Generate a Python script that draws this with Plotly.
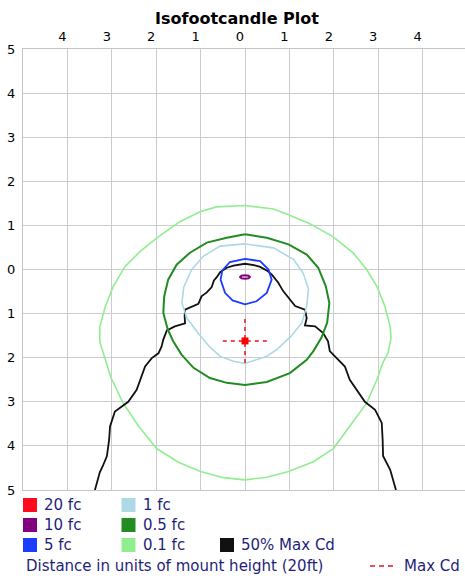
import plotly.graph_objects as go

# ---------------- data (units of mount height) ----------------
fc01_x = [0, 0.64, 0.98, 1.46, 1.99, 2.44, 2.74, 2.97, 3.15, 3.27, 3.29, 3.22, 3.11, 2.97, 2.74, 2.36, 1.99, 1.54, 0.98, 0.49, 0,
          -0.49, -1.0, -1.50, -1.99, -2.40, -2.75, -3.02, -3.27, -3.27, -3.15, -2.97, -2.70, -2.36, -1.99, -1.46, -1.01, -0.64, 0]
fc01_y = [1.45, 1.37, 1.24, 1.04, 0.74, 0.37, 0.0, -0.38, -0.83, -1.30, -1.55, -1.90, -2.10, -2.50, -3.03, -3.56, -4.06, -4.36, -4.58, -4.71, -4.77,
          -4.72, -4.58, -4.37, -4.06, -3.55, -3.02, -2.45, -1.64, -1.30, -0.85, -0.39, 0.07, 0.41, 0.71, 1.09, 1.31, 1.42, 1.45]

fc05_x = [0, 0.49, 0.98, 1.39, 1.65, 1.82, 1.90, 1.85, 1.72, 1.54, 1.39, 1.01, 0.49, 0, -0.41, -0.79, -1.16, -1.43, -1.62, -1.74,
          -1.84, -1.82, -1.73, -1.54, -1.24, -0.86, -0.41, 0]
fc05_y = [0.80, 0.72, 0.57, 0.34, 0.04, -0.38, -0.76, -1.21, -1.55, -1.85, -2.05, -2.35, -2.55, -2.62, -2.57, -2.46, -2.23, -1.93, -1.62, -1.36,
          -0.98, -0.61, -0.23, 0.11, 0.38, 0.61, 0.72, 0.80]

fc1_x = [0, 0.64, 1.09, 1.31, 1.43, 1.39, 1.28, 1.05, 0.71, 0.49, 0, -0.26, -0.56, -0.80, -1.05, -1.31, -1.42, -1.38, -1.20, -0.94, -0.56, 0]
fc1_y = [0.58, 0.49, 0.23, -0.08, -0.45, -0.83, -1.21, -1.50, -1.82, -1.97, -2.13, -2.08, -1.97, -1.75, -1.45, -1.10, -0.76, -0.40, 0.0, 0.30, 0.53, 0.58]

fc5_x = [0, 0.34, 0.53, 0.60, 0.49, 0.26, 0, -0.28, -0.45, -0.55, -0.51, -0.34, 0]
fc5_y = [0.24, 0.19, 0.0, -0.23, -0.53, -0.72, -0.79, -0.70, -0.53, -0.23, -0.02, 0.17, 0.24]

fc10_x = [0, 0.08, 0.11, 0.08, 0, -0.08, -0.11, -0.08, 0]
fc10_y = [-0.13, -0.14, -0.17, -0.20, -0.21, -0.20, -0.17, -0.14, -0.13]

cd50_x = [-3.38, -3.27, -3.20, -3.11, -3.06, -3.04, -2.93, -2.78, -2.63, -2.44, -2.33, -2.25, -2.10, -1.95, -1.88, -1.84, -1.76,
          -1.58, -1.35, -1.36, -1.35, -1.22, -1.05, -0.98, -0.86, -0.75, -0.70, -0.64, -0.56, -0.41, -0.26, 0, 0.20, 0.34,
          0.50, 0.60, 0.75, 0.86, 1.01, 1.13, 1.35, 1.39, 1.35, 1.58, 1.76, 1.87, 1.91, 2.07, 2.25, 2.36, 2.52, 2.70, 2.93,
          3.08, 3.10, 3.11, 3.27, 3.38, 3.40]
cd50_y = [-5.0, -4.6, -4.45, -4.23, -3.86, -3.56, -3.22, -3.11, -3.0, -2.73, -2.42, -2.20, -2.01, -1.90, -1.75, -1.59, -1.38,
          -1.29, -1.22, -1.06, -0.91, -0.85, -0.78, -0.61, -0.52, -0.40, -0.25, -0.18, -0.06, 0.04, 0.09, 0.13, 0.10, 0.06,
          -0.03, -0.11, -0.30, -0.49, -0.68, -0.83, -0.91, -1.10, -1.27, -1.29, -1.44, -1.63, -1.85, -2.01, -2.20, -2.50, -2.73, -3.0, -3.18,
          -3.48, -3.86, -4.23, -4.54, -4.92, -5.0]

maxcd_x = [0.0]
maxcd_y = [-1.62]
maxcd_arm = 0.5

tick_vals = [-4, -3, -2, -1, 0, 1, 2, 3, 4]
tick_text = ["4", "3", "2", "1", "0", "1", "2", "3", "4"]
ytick_vals = [-5, -4, -3, -2, -1, 0, 1, 2, 3, 4, 5]
ytick_text = ["5", "4", "3", "2", "1", "0", "1", "2", "3", "4", "5"]

legend_labels = ["20 fc", "10 fc", "5 fc", "1 fc", "0.5 fc", "0.1 fc", "50% Max Cd"]
title_text = "Isofootcandle Plot"
footer_text = "Distance in units of mount height (20ft)"
maxcd_label = "Max Cd"

# ---------------- styles ----------------
COL = {"20 fc": "#ff0a1e", "10 fc": "#800080", "5 fc": "#1e3cff", "1 fc": "#add8e6",
       "0.5 fc": "#228b22", "0.1 fc": "#90ee90", "50% Max Cd": "#111111"}
TXT = "#1f1f7a"
FONT = "DejaVu Sans"

W, H = 465, 576
L, R, T, B = 23, 0, 49, 86
PW, PH = W - L - R, H - T - B

def px(xp):
    return (xp - L) / PW

def py(yp):
    return (H - B - yp) / PH

fig = go.Figure()

def line(x, y, color, width):
    fig.add_trace(go.Scatter(x=x, y=y, mode="lines", line=dict(color=color, width=width),
                             hoverinfo="skip", showlegend=False))

line(fc01_x, fc01_y, COL["0.1 fc"], 1.6)
line(cd50_x, cd50_y, COL["50% Max Cd"], 1.8)
line(fc05_x, fc05_y, COL["0.5 fc"], 2.0)
line(fc1_x, fc1_y, COL["1 fc"], 1.6)
line(fc5_x, fc5_y, COL["5 fc"], 1.8)
line(fc10_x, fc10_y, COL["10 fc"], 2.0)

# Max Cd cross
cx, cy = maxcd_x[0], maxcd_y[0]
fig.add_trace(go.Scatter(x=[cx - maxcd_arm, cx + maxcd_arm], y=[cy, cy], mode="lines",
                         line=dict(color="#e8102a", width=1.5, dash="4px,4px"), hoverinfo="skip", showlegend=False))
fig.add_trace(go.Scatter(x=[cx, cx], y=[cy + maxcd_arm, cy - maxcd_arm], mode="lines",
                         line=dict(color="#e8102a", width=1.5, dash="4px,4px"), hoverinfo="skip", showlegend=False))
fig.add_trace(go.Scatter(x=maxcd_x, y=maxcd_y, mode="markers",
                         marker=dict(symbol="square", size=7, color="#ff0000"), hoverinfo="skip", showlegend=False))

# ---------------- legend (drawn) ----------------
shapes = []
annotations = []
cols_px = [(23, 42), (121.5, 140.5), (220, 239)]
rows_px = [505, 525, 545]
slots = [(0, 0), (0, 1), (0, 2), (1, 0), (1, 1), (1, 2), (2, 2)]
for lab, (c, r) in zip(legend_labels, slots):
    sx, tx = cols_px[c]
    yc = rows_px[r]
    shapes.append(dict(type="rect", xref="paper", yref="paper",
                       x0=px(sx), x1=px(sx + 14), y0=py(yc + 7), y1=py(yc - 7),
                       fillcolor=COL[lab], line=dict(width=0)))
    annotations.append(dict(text=lab, xref="paper", yref="paper", x=px(tx), y=py(yc),
                            xanchor="left", yanchor="middle", showarrow=False,
                            font=dict(family=FONT, size=15, color=TXT)))

annotations.append(dict(text=footer_text, xref="paper", yref="paper", x=px(24), y=py(566),
                        xanchor="left", yanchor="middle", showarrow=False,
                        font=dict(family=FONT, size=15, color=TXT)))
shapes.append(dict(type="line", xref="paper", yref="paper", x0=px(370), x1=px(396), y0=py(566), y1=py(566),
                   line=dict(color="#e8102a", width=1.5, dash="5px,4px")))
annotations.append(dict(text=maxcd_label, xref="paper", yref="paper", x=px(402), y=py(566),
                        xanchor="left", yanchor="middle", showarrow=False,
                        font=dict(family=FONT, size=15, color=TXT)))

annotations.append(dict(text="<b>" + title_text + "</b>", xref="paper", yref="paper", x=px(237), y=py(19),
                        xanchor="center", yanchor="middle", showarrow=False,
                        font=dict(family=FONT, size=16, color="#000000")))

x_right = -5 + PW / 44.4

fig.update_layout(
    width=W, height=H, margin=dict(l=L, r=R, t=T, b=B, pad=0, autoexpand=False),
    paper_bgcolor="white", plot_bgcolor="white",
    shapes=shapes, annotations=annotations, showlegend=False,
    xaxis=dict(range=[-5, x_right], side="top", tickmode="array", tickvals=tick_vals, ticktext=tick_text,
               showgrid=True, gridcolor="#cccccc", gridwidth=1, zeroline=False, automargin=False,
               showline=True, linecolor="#c4c4c4", linewidth=1, mirror=True, ticks="",
               ticklabelshift=-5, ticklabelstandoff=2,
               tickfont=dict(family=FONT, size=13, color="#000000"), fixedrange=True),
    yaxis=dict(range=[-5, 5], tickmode="array", tickvals=ytick_vals, ticktext=ytick_text,
               showgrid=True, gridcolor="#cccccc", gridwidth=1, zeroline=False, automargin=False,
               showline=True, linecolor="#c4c4c4", linewidth=1, mirror=True, ticks="",
               ticklabelstandoff=4,
               tickfont=dict(family=FONT, size=13, color="#000000"), fixedrange=True),
)

fig.write_html("out.html", config={"displayModeBar": False},
               post_script="document.body.style.margin='0';document.body.style.overflow='hidden';")
